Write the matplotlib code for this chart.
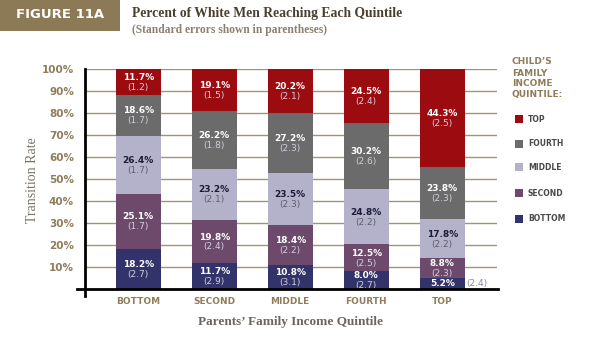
import matplotlib.pyplot as plt
from matplotlib.patches import Rectangle
import numpy as np

# parents' quintile (x) and child's quintile (stack, bottom -> top)
parents = ["BOTTOM", "SECOND", "MIDDLE", "FOURTH", "TOP"]
child = ["Bottom", "Second", "Middle", "Fourth", "Top"]

# rows = child quintile, columns = parents quintile
rates = {
    "Bottom": [18.2, 11.7, 10.8, 8.0, 5.2],
    "Second": [25.1, 19.8, 18.4, 12.5, 8.8],
    "Middle": [26.4, 23.2, 23.5, 24.8, 17.8],
    "Fourth": [18.6, 26.2, 27.2, 30.2, 23.8],
    "Top": [11.7, 19.1, 20.2, 24.5, 44.3],
}
errors = {
    "Bottom": [2.7, 2.9, 3.1, 2.7, 2.4],
    "Second": [1.7, 2.4, 2.2, 2.5, 2.3],
    "Middle": [1.7, 2.1, 2.3, 2.2, 2.2],
    "Fourth": [1.7, 1.8, 2.3, 2.6, 2.3],
    "Top": [1.2, 1.5, 2.1, 2.4, 2.5],
}
yticks = [10, 20, 30, 40, 50, 60, 70, 80, 90, 100]

colors = {
    "Bottom": "#32336a",
    "Second": "#6d4a6c",
    "Middle": "#b3b2ca",
    "Fourth": "#6b6b6b",
    "Top": "#9c0b10",
}
tan = "#8f7d5a"
grid_tan = "#a39471"

W, H = 596, 355
fig = plt.figure(figsize=(W / 100, H / 100), dpi=100)


def fx(px):
    return px / W


def fy(py):
    return 1 - py / H


# header banner
fig.patches.append(Rectangle((0, fy(31)), fx(120), 31 / H, transform=fig.transFigure,
                             facecolor="#8c7a56", edgecolor="none"))
fig.text(fx(60), fy(15), "FIGURE 11A", color="white", fontsize=9.5, fontweight="bold",
         ha="center", va="center", family="DejaVu Sans")
fig.text(fx(132), fy(13), "Percent of White Men Reaching Each Quintile", color="#4a4030",
         fontsize=9.8, fontweight="bold", ha="left", va="center", family="Liberation Serif")
fig.text(fx(132), fy(30), "(Standard errors shown in parentheses)", color="#8a8070",
         fontsize=8.3, fontweight="bold", ha="left", va="center", family="Liberation Serif")

ax = fig.add_axes([fx(85), fy(289), fx(497 - 85), (289 - 69) / H])
x = np.arange(len(parents))
ax.set_xlim(-0.70, 4.72)
ax.set_ylim(0, 100)

for t in yticks:
    ax.axhline(t, color=grid_tan, lw=1.0, zorder=0)

bottom = np.zeros(len(parents))
for c in child:
    vals = np.array(rates[c])
    ax.bar(x, vals, width=0.59, bottom=bottom, color=colors[c], zorder=2)
    for i, v in enumerate(vals):
        mid = bottom[i] + v / 2
        dark = c != "Middle"
        vcol = "white" if dark else "#1c1c38"
        ecol = "#cfcfdc" if dark else "#5e5e72"
        if v < 6:
            ax.text(x[i], mid, f"{v:.1f}%", color=vcol, fontsize=6.5, fontweight="bold",
                    ha="center", va="center", zorder=3)
            ax.text(x[i] + 0.31, mid, f"({errors[c][i]:.1f})", color="#8a8aa0", fontsize=6.5,
                    ha="left", va="center", zorder=3)
        else:
            ax.text(x[i], mid + 2.0, f"{v:.1f}%", color=vcol, fontsize=6.5, fontweight="bold",
                    ha="center", va="center", zorder=3)
            ax.text(x[i], mid - 2.5, f"({errors[c][i]:.1f})", color=ecol, fontsize=6.5,
                    ha="center", va="center", zorder=3)
    bottom += vals

for s in ax.spines.values():
    s.set_visible(False)
# black axis lines
ax.plot([-0.02, 1.003], [-0.002, -0.002], transform=ax.transAxes, color="black", lw=2,
        clip_on=False, zorder=4)
ax.plot([0, 0], [-0.03, 1.0], transform=ax.transAxes, color="black", lw=2,
        clip_on=False, zorder=4)

ax.set_yticks(yticks)
ax.set_yticklabels([f"{t}%" for t in yticks], color=tan, fontsize=7.5, fontweight="bold")
ax.set_xticks(x)
ax.set_xticklabels(parents, color=tan, fontsize=6.5, fontweight="bold")
ax.tick_params(length=0)
ax.tick_params(axis="y", pad=8)
ax.tick_params(axis="x", pad=6)

fig.text(fx(33), fy(180), "Transition Rate", rotation=90, color="#7a7468", fontsize=10,
         ha="center", va="center", family="Liberation Serif")
fig.text(fx(290), fy(322), "Parents\u2019 Family Income Quintile", color="#6a665e",
         fontsize=9.5, fontweight="bold", ha="center", va="center", family="Liberation Serif")

# legend
for j, line in enumerate(["CHILD\u2019S", "FAMILY", "INCOME", "QUINTILE:"]):
    fig.text(fx(512), fy(62 + j * 11), line, color=tan, fontsize=6.5, fontweight="bold",
             ha="left", va="center")
leg_y = {"Top": 119, "Fourth": 144, "Middle": 167, "Second": 193, "Bottom": 219}
for c in ["Top", "Fourth", "Middle", "Second", "Bottom"]:
    yy = leg_y[c]
    fig.patches.append(Rectangle((fx(515), fy(yy + 4)), fx(8), 8 / H, transform=fig.transFigure,
                                 facecolor=colors[c], edgecolor="none"))
    fig.text(fx(528), fy(yy), c.upper(), color="#4a4a4a", fontsize=5.5, fontweight="bold",
             ha="left", va="center")

fig.savefig("out.png", dpi=100, facecolor="white")
